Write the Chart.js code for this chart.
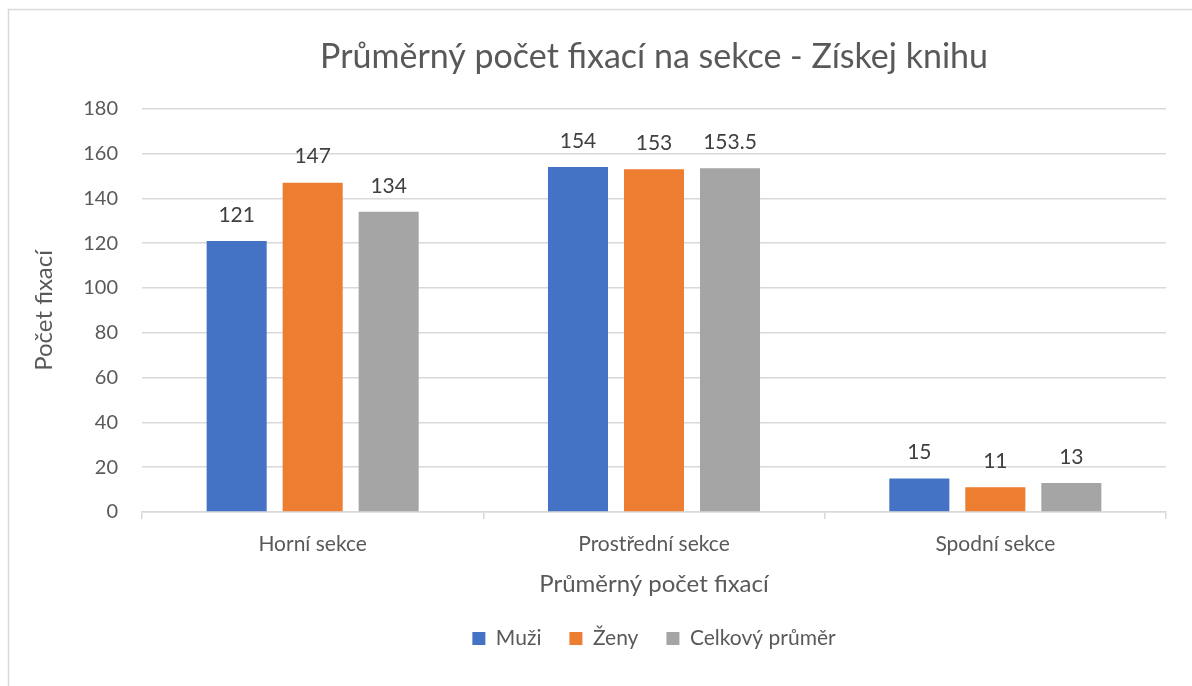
<!DOCTYPE html>
<html>
<head>
<meta charset="utf-8">
<script src="https://cdn.jsdelivr.net/npm/chart.js@4"></script>
<style>
  body { margin: 0; background: #fff; }
  #wrap { width: 1192px; height: 686px; }
</style>
</head>
<body>
<div id="wrap"><canvas id="myChart" width="1192" height="686"></canvas></div>
<script>
  const categories = ["Horní sekce", "Prostřední sekce", "Spodní sekce"];
  const muzi = [121, 154, 15];
  const zeny = [147, 153, 11];
  const celkem = [134, 153.5, 13];
  const seriesNames = ["Muži", "Ženy", "Celkový průměr"];

  const FONT = "Lato, 'Open Sans', sans-serif";

  // border round the whole chart + value labels above the bars
  const extras = {
    id: "extras",
    beforeDraw(chart) {
      const c = chart.ctx;
      c.save();
      c.fillStyle = "#fff";
      c.fillRect(0, 0, chart.width, chart.height);
      c.strokeStyle = "#d9d9d9";
      c.lineWidth = 1.5;
      c.strokeRect(8.5, 9.5, 1200, 700);
      c.restore();
    },
    afterDatasetsDraw(chart) {
      const c = chart.ctx;
      c.save();
      c.font = "21px " + FONT;
      c.fillStyle = "#404040";
      c.textAlign = "center";
      c.textBaseline = "middle";
      chart.data.datasets.forEach((ds, i) => {
        chart.getDatasetMeta(i).data.forEach((bar, j) => {
          c.fillText(String(ds.data[j]), bar.x, bar.y - 26);
        });
      });
      c.restore();
    },
  };

  const ctx = document.getElementById("myChart");

  const chart = new Chart(ctx, {
    type: "bar",
    data: {
      labels: categories,
      datasets: [
        { label: seriesNames[0], data: muzi, backgroundColor: "#4472c4" },
        { label: seriesNames[1], data: zeny, backgroundColor: "#ed7d31" },
        { label: seriesNames[2], data: celkem, backgroundColor: "#a5a5a5" },
      ],
    },
    options: {
      responsive: false,
      animation: false,
      categoryPercentage: 0.668,
      barPercentage: 0.79,
      layout: {
        padding: { left: 20, right: 26, top: 18, bottom: 27 },
      },
      scales: {
        x: {
          grid: {
            drawOnChartArea: false,
            color: "#d9d9d9",
            lineWidth: 1.5,
            tickLength: 7,
          },
          border: { color: "#d9d9d9", width: 1.5 },
          ticks: {
            color: "#595959",
            font: { family: FONT, size: 21 },
            padding: 13,
          },
          title: {
            display: true,
            text: "Průměrný počet fixací",
            color: "#595959",
            font: { family: FONT, size: 24 },
            padding: { top: 0, bottom: 1 },
          },
        },
        y: {
          min: 0,
          max: 180,
          afterFit(scale) {
            scale.width = 122;
          },
          grid: {
            color: "#d9d9d9",
            lineWidth: 1.5,
            drawTicks: false,
          },
          border: { display: false },
          ticks: {
            stepSize: 20,
            color: "#595959",
            font: { family: FONT, size: 20 },
            padding: 24,
          },
          title: {
            display: true,
            text: "Počet fixací",
            color: "#595959",
            font: { family: FONT, size: 24 },
            padding: { top: 10, bottom: 0 },
          },
        },
      },
      plugins: {
        title: {
          display: true,
          fullSize: false,
          text: "Průměrný počet fixací na sekce - Získej knihu",
          color: "#595959",
          font: { family: FONT, size: 34, weight: "normal" },
          padding: { top: 19, bottom: 31 },
        },
        legend: {
          position: "bottom",
          fullSize: false,
          labels: {
            color: "#595959",
            font: { family: FONT, size: 21 },
            boxWidth: 13,
            boxHeight: 13,
            padding: 28,
          },
        },
        tooltip: { enabled: false },
      },
    },
    plugins: [extras],
  });
</script>
</body>
</html>
